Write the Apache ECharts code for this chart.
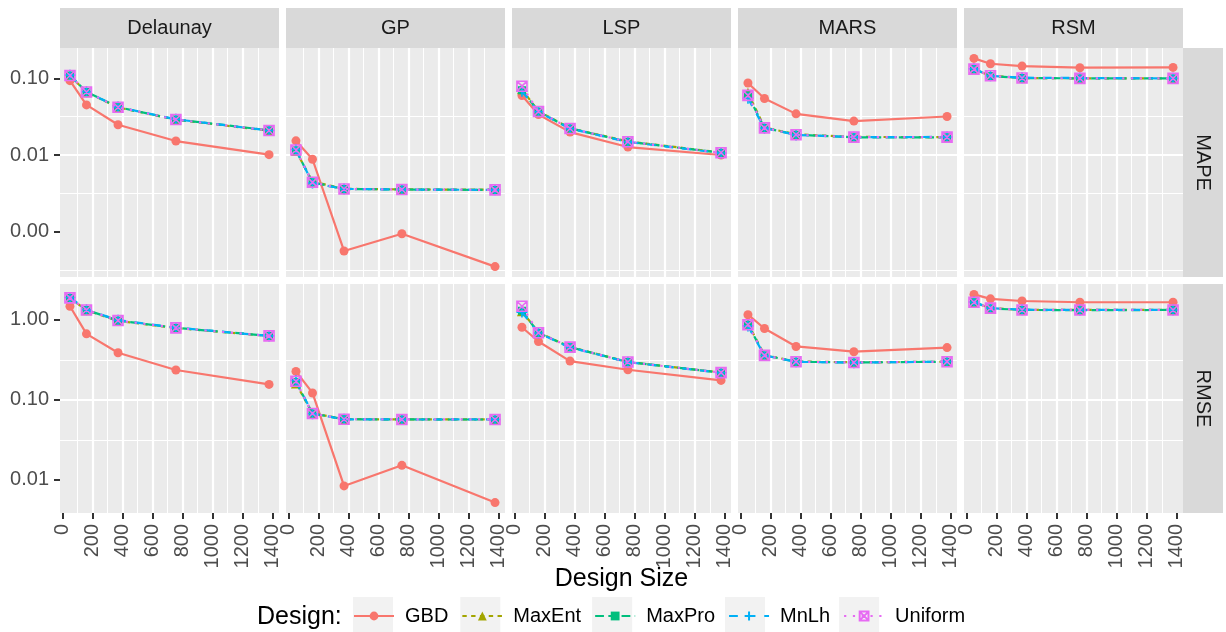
<!DOCTYPE html>
<html>
<head>
<meta charset="utf-8">
<script src="https://cdn.jsdelivr.net/npm/echarts@6/dist/echarts.min.js"></script>
<style>
html, body { margin: 0; padding: 0; background: #ffffff; }
#chart { width: 1226px; height: 632px; }
</style>
</head>
<body>
<div id="chart"></div>
<script>
// ---- data ---------------------------------------------------------------
const designSizes = [50, 160, 370, 755, 1375];
const models = ['Delaunay', 'GP', 'LSP', 'MARS', 'RSM'];
const metrics = ['MAPE', 'RMSE'];
const designs = ['GBD', 'MaxEnt', 'MaxPro', 'MnLh', 'Uniform'];
const xTicks = [0, 200, 400, 600, 800, 1000, 1200, 1400];

// each array: one row per design (GBD, MaxEnt, MaxPro, MnLh, Uniform), one value per design size
const mapeDelaunay = [
  [0.0933, 0.0450, 0.0248, 0.0152, 0.0101],
  [0.108, 0.0660, 0.0418, 0.0288, 0.0208],
  [0.109, 0.0665, 0.0421, 0.0291, 0.0210],
  [0.110, 0.0668, 0.0422, 0.0292, 0.0209],
  [0.109, 0.0664, 0.0420, 0.0290, 0.0209]
];
const mapeGP = [
  [0.0153, 0.0088, 0.00056, 0.00094, 0.00035],
  [0.0113, 0.0045, 0.00362, 0.00356, 0.00352],
  [0.0115, 0.0044, 0.00360, 0.00355, 0.00350],
  [0.0118, 0.0043, 0.00361, 0.00354, 0.00351],
  [0.0116, 0.0044, 0.00360, 0.00355, 0.00351]
];
const mapeLSP = [
  [0.0596, 0.0337, 0.0199, 0.0127, 0.0100],
  [0.072, 0.0372, 0.0224, 0.0150, 0.0108],
  [0.070, 0.0368, 0.0222, 0.0149, 0.0107],
  [0.068, 0.0366, 0.0221, 0.0148, 0.0106],
  [0.079, 0.0369, 0.0222, 0.0149, 0.0107]
];
const mapeMARS = [
  [0.0869, 0.0545, 0.0344, 0.0277, 0.0318],
  [0.065, 0.0228, 0.0186, 0.0172, 0.0171],
  [0.060, 0.0226, 0.0184, 0.0170, 0.0170],
  [0.055, 0.0224, 0.0183, 0.0171, 0.0172],
  [0.060, 0.0226, 0.0184, 0.0171, 0.0171]
];
const mapeRSM = [
  [0.182, 0.155, 0.1445, 0.1377, 0.139],
  [0.131, 0.108, 0.101, 0.100, 0.100],
  [0.132, 0.107, 0.101, 0.100, 0.100],
  [0.133, 0.108, 0.102, 0.101, 0.100],
  [0.132, 0.108, 0.101, 0.100, 0.100]
];
const rmseDelaunay = [
  [1.48, 0.669, 0.388, 0.236, 0.156],
  [1.87, 1.32, 0.97, 0.790, 0.628],
  [1.88, 1.33, 0.98, 0.795, 0.632],
  [1.90, 1.34, 0.99, 0.800, 0.630],
  [1.88, 1.33, 0.98, 0.795, 0.630]
];
const rmseGP = [
  [0.227, 0.122, 0.0084, 0.0152, 0.0052],
  [0.160, 0.0680, 0.0575, 0.0570, 0.0569],
  [0.168, 0.0675, 0.0573, 0.0569, 0.0568],
  [0.175, 0.0670, 0.0572, 0.0568, 0.0570],
  [0.171, 0.0675, 0.0573, 0.0569, 0.0569]
];
const rmseLSP = [
  [0.809, 0.537, 0.305, 0.238, 0.175],
  [1.28, 0.695, 0.458, 0.298, 0.220],
  [1.30, 0.689, 0.456, 0.297, 0.219],
  [1.25, 0.685, 0.452, 0.296, 0.218],
  [1.48, 0.689, 0.456, 0.297, 0.219]
];
const rmseMARS = [
  [1.16, 0.78, 0.465, 0.40, 0.45],
  [0.90, 0.362, 0.302, 0.295, 0.300],
  [0.87, 0.360, 0.300, 0.293, 0.300],
  [0.84, 0.358, 0.299, 0.292, 0.301],
  [0.87, 0.360, 0.300, 0.293, 0.300]
];
const rmseRSM = [
  [2.08, 1.83, 1.72, 1.66, 1.66],
  [1.65, 1.40, 1.33, 1.33, 1.33],
  [1.66, 1.39, 1.33, 1.32, 1.33],
  [1.67, 1.40, 1.34, 1.33, 1.33],
  [1.66, 1.40, 1.33, 1.33, 1.33]
];

const panelValues = [
  [mapeDelaunay, mapeGP, mapeLSP, mapeMARS, mapeRSM],
  [rmseDelaunay, rmseGP, rmseLSP, rmseMARS, rmseRSM]
];

// ---- look ---------------------------------------------------------------
const FONT = '"Liberation Sans", Arial, Helvetica, sans-serif';
const designStyle = {
  GBD:     { color: '#F8766D', symbol: 'circle', size: 9, dash: 'solid', hollow: false },
  MaxEnt:  { color: '#A3A500', symbol: 'triangle', size: 10, dash: [4.4, 4.4], hollow: false },
  MaxPro:  { color: '#00BF7D', symbol: 'rect', size: 8, dash: [8.8, 4.4], hollow: false },
  MnLh:    { color: '#00B0F6', symbol: 'path://M5,0L5,10M0,5L10,5', size: 11, dash: [8.8, 8.8], hollow: true },
  Uniform: { color: '#E76BF3', symbol: 'path://M0,0L10,0L10,10L0,10ZM0,0L10,10M10,0L0,10', size: 10, dash: [2.2, 6.6], hollow: true }
};

const PANEL_LEFT = 60, PANEL_STEP = 226, PANEL_W = 219;
const ROW_TOP = [48, 284], PANEL_H = 229;
const STRIP_H = 40, STRIP_W = 40;

// ggplot-like 5% expansion of the data range
function expand(lo, hi) { const e = (hi - lo) * 0.05; return [lo - e, hi + e]; }
const xRange = expand(Math.min.apply(null, designSizes), Math.max.apply(null, designSizes));
const yRanges = panelValues.map(function (row) {
  let lo = Infinity, hi = -Infinity;
  row.forEach(function (m) { m.forEach(function (s) { s.forEach(function (v) {
    const l = Math.log10(v); if (l < lo) lo = l; if (l > hi) hi = l;
  }); }); });
  return expand(lo, hi);
});
const yMajor = yRanges.map(function (r) {
  const out = []; for (let k = Math.ceil(r[0]); k <= Math.floor(r[1]); k++) out.push(k); return out;
});

const grids = [], xAxes = [], yAxes = [], series = [];
metrics.forEach(function (metric, r) {
  models.forEach(function (model, c) {
    const g = grids.length;
    grids.push({
      left: PANEL_LEFT + PANEL_STEP * c, top: ROW_TOP[r], width: PANEL_W, height: PANEL_H,
      show: true, backgroundColor: '#EBEBEB', borderWidth: 0, containLabel: false
    });
    const bottomRow = r === metrics.length - 1;
    xAxes.push({
      type: 'value', gridIndex: g, min: xRange[0], max: xRange[1], splitNumber: 7,
      position: 'bottom',
      axisLine: { show: false, onZero: false },
      axisTick: { show: bottomRow, length: 6, lineStyle: { color: '#333333', width: 2 }, customValues: xTicks },
      axisLabel: {
        show: bottomRow, customValues: xTicks, rotate: 90, margin: 11,
        color: '#4D4D4D', fontSize: 20, fontFamily: FONT,
        formatter: function (v) { return xTicks.indexOf(Math.round(v * 1000) / 1000) >= 0 ? String(v) : ''; }
      },
      splitLine: { show: true, showMinLine: false, showMaxLine: false, lineStyle: { color: '#FFFFFF', width: 2.2 } },
      minorTick: { show: false, splitNumber: 2 },
      minorSplitLine: { show: true, lineStyle: { color: '#FFFFFF', width: 1.1 } }
    });
    yAxes.push({
      type: 'value', gridIndex: g, min: yRanges[r][0], max: yRanges[r][1], splitNumber: 3,
      position: 'left',
      axisLine: { show: false, onZero: false },
      axisTick: { show: c === 0, length: 6, lineStyle: { color: '#333333', width: 2 }, customValues: yMajor[r] },
      axisLabel: {
        show: c === 0, customValues: yMajor[r], margin: 11,
        color: '#4D4D4D', fontSize: 20, fontFamily: FONT,
        formatter: function (v) {
          return Math.abs(v - Math.round(v)) < 1e-6 ? Math.pow(10, Math.round(v)).toFixed(2) : '';
        }
      },
      splitLine: { show: true, showMinLine: false, showMaxLine: false, lineStyle: { color: '#FFFFFF', width: 2.2 } },
      minorTick: { show: false, splitNumber: 2 },
      minorSplitLine: { show: true, lineStyle: { color: '#FFFFFF', width: 1.1 } }
    });
    const values = panelValues[r][c];
    designs.forEach(function (d, k) {
      const st = designStyle[d];
      series.push({
        name: d, type: 'line', xAxisIndex: g, yAxisIndex: g,
        data: designSizes.map(function (x, i) { return [x, Math.log10(values[k][i])]; }),
        symbol: st.symbol, symbolSize: st.size, showSymbol: true,
        lineStyle: { color: st.color, width: 2.2, type: st.dash, cap: 'butt' },
        itemStyle: st.hollow
          ? { color: st.symbol.indexOf('Z') >= 0 ? 'rgba(0,0,0,0)' : st.color, borderColor: st.color, borderWidth: 1.6 }
          : { color: st.color, borderWidth: 0 },
        emphasis: { disabled: true },
        z: 2 + k
      });
    });
  });
});

// ---- strips, titles, legend key backgrounds --------------------------------
const graphics = [];
models.forEach(function (m, c) {
  const x = PANEL_LEFT + PANEL_STEP * c;
  graphics.push({ type: 'rect', shape: { x: x, y: ROW_TOP[0] - STRIP_H, width: PANEL_W, height: STRIP_H }, style: { fill: '#D9D9D9' }, silent: true });
  graphics.push({ type: 'text', x: x + PANEL_W / 2, y: ROW_TOP[0] - STRIP_H / 2, style: { text: m, font: '20px ' + FONT, fill: '#1A1A1A', textAlign: 'center', textVerticalAlign: 'middle', align: 'center', verticalAlign: 'middle' }, silent: true });
});
const stripX = PANEL_LEFT + PANEL_STEP * (models.length - 1) + PANEL_W;
metrics.forEach(function (m, r) {
  graphics.push({ type: 'rect', shape: { x: stripX, y: ROW_TOP[r], width: STRIP_W, height: PANEL_H }, style: { fill: '#D9D9D9' }, silent: true });
  graphics.push({ type: 'text', x: stripX + STRIP_W / 2, y: ROW_TOP[r] + PANEL_H / 2, rotation: -Math.PI / 2, style: { text: m, font: '20px ' + FONT, fill: '#1A1A1A', textAlign: 'center', textVerticalAlign: 'middle', align: 'center', verticalAlign: 'middle' }, silent: true });
});
const plotCenter = (PANEL_LEFT + stripX) / 2;
graphics.push({ type: 'text', x: plotCenter, y: 579, style: { text: 'Design Size', font: '25px ' + FONT, fill: '#000000', textAlign: 'center', textVerticalAlign: 'middle', align: 'center', verticalAlign: 'middle' }, silent: true });
graphics.push({ type: 'text', x: 257, y: 617, style: { text: 'Design:', font: '25px ' + FONT, fill: '#000000', textAlign: 'left', textVerticalAlign: 'middle', align: 'left', verticalAlign: 'middle' }, silent: true });

const LEG_LEFT = 353, KEY_W = 40, KEY_H = 40, KEY_TEXT_GAP = 11, ITEM_GAP = 13, LEG_MID = 617;
const measureCtx = document.createElement('canvas').getContext('2d');
measureCtx.font = '20px ' + FONT;
let kx = LEG_LEFT;
designs.forEach(function (d) {
  graphics.push({ type: 'rect', shape: { x: kx, y: LEG_MID - KEY_H / 2, width: KEY_W, height: KEY_H }, style: { fill: '#F2F2F2' }, silent: true, z: -1 });
  kx += KEY_W + KEY_TEXT_GAP + measureCtx.measureText(d).width + ITEM_GAP;
});

const chart = echarts.init(document.getElementById('chart'), null, { renderer: 'canvas' });
chart.setOption({
  animation: false,
  backgroundColor: '#FFFFFF',
  textStyle: { fontFamily: FONT },
  grid: grids,
  xAxis: xAxes,
  yAxis: yAxes,
  series: series,
  graphic: { elements: graphics },
  legend: {
    data: designs, selectedMode: false, orient: 'horizontal',
    left: LEG_LEFT, top: LEG_MID - 11, padding: 0,
    itemWidth: KEY_W, itemHeight: 11, itemGap: ITEM_GAP,
    textStyle: { fontSize: 20, color: '#000000', fontFamily: FONT, padding: [0, 0, 0, KEY_TEXT_GAP - 5] },
    z: 5
  }
});
</script>
</body>
</html>
